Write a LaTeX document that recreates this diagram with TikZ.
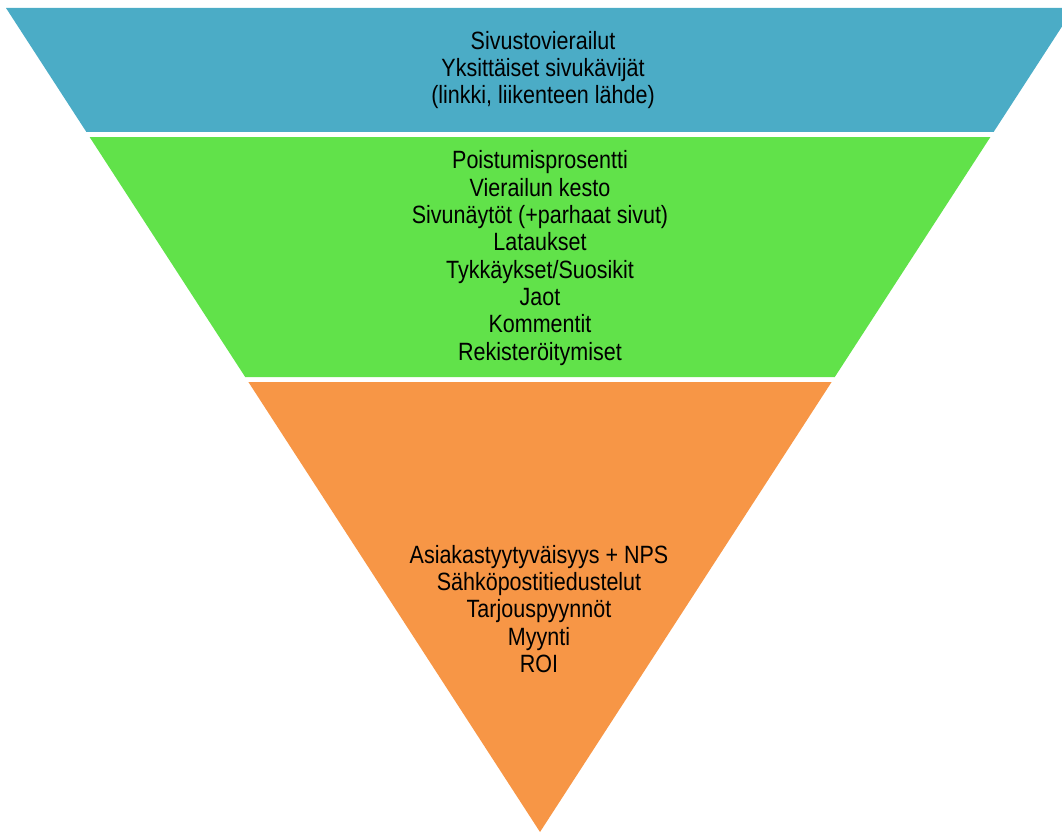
\documentclass[tikz,border=0pt]{standalone}
\usepackage{fontspec}
\setmainfont{Liberation Sans}
\newfontfamily\tallfont[FakeStretch=0.86]{Liberation Sans}
\definecolor{bandblue}{HTML}{4BACC6}
\definecolor{bandgreen}{HTML}{61E24A}
\definecolor{bandorange}{HTML}{F79646}
\begin{document}
\begin{tikzpicture}[x=1pt,y=-1pt,
  band/.style={draw=none},
  label/.style={align=center, inner sep=0pt, font=\tallfont\fontsize{25}{27.3}\selectfont, text=black}]
\useasboundingbox (0,0) rectangle (1062,832);
\begin{scope}
\clip (0,0) rectangle (1062,832);
\fill[band, bandblue] (6,8) -- (1074,8) -- (993.6,132) -- (86.4,132) -- cycle;
\fill[band, bandgreen] (89.6,137) -- (990.4,137) -- (834.8,377) -- (245.2,377) -- cycle;
\fill[band, bandorange] (248.4,382) -- (831.6,382) -- (540,832) -- cycle;
\end{scope}
\node[label] (top) at (543,70) {Sivustovierailut\\Yksittäiset sivukävijät\\(linkki, liikenteen lähde)};
\node[label] (mid) at (540,258) {Poistumisprosentti\\Vierailun kesto\\Sivunäytöt (+parhaat sivut)\\Lataukset\\Tykkäykset/Suosikit\\Jaot\\Kommentit\\Rekisteröitymiset};
\node[label] (bot) at (539,609) {Asiakastyytyväisyys + NPS\\Sähköpostitiedustelut\\Tarjouspyynnöt\\Myynti\\ROI};
\end{tikzpicture}
\end{document}
